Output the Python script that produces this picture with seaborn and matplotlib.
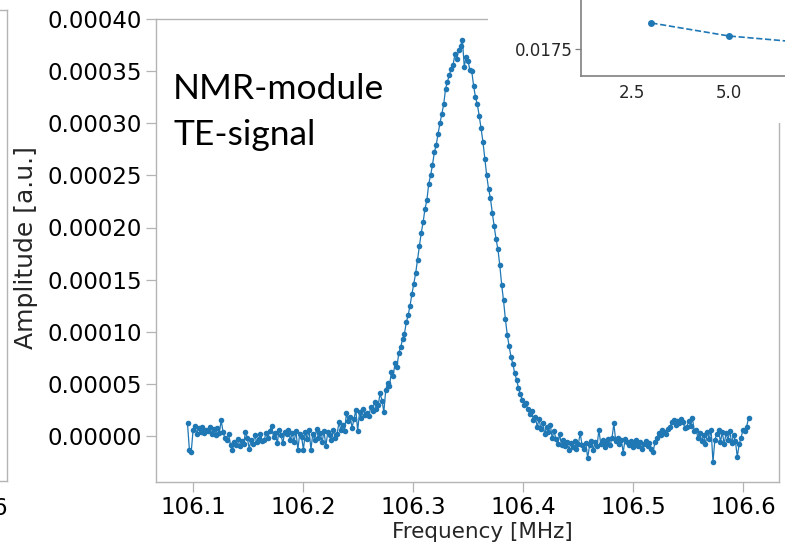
import numpy as np
import matplotlib
matplotlib.use("Agg")
import matplotlib.pyplot as plt
import seaborn as sns
from matplotlib.patches import Rectangle

# ---------------- data ----------------
# frequency sweep grid (MHz)
f_start = 106.095
f_step = 0.0017
amp_unit = 1e-5  # amplitudes below are in units of 1e-5 a.u.

amp_left = [1.2, -1.3, -1.5, 0.6, 1.0, 0.2, 0.8, 0.4, 0.9, 0.3, 0.6,
            0.5, 0.9, 0.2, 0.7, 0.1, 0.8, 0.3, 1.5, 0.4, -0.2,
            -0.4, 0.2, -0.9, -1.3, -0.6, -0.9, -0.3, -1.0, -0.5, -0.8,
            0.4, -0.2, -1.2, -0.4, -0.8, 0.1, -0.6, -0.3, 0.2, -0.5,
            -0.4, 0.3, -0.2, 0.5, 1.0, -0.1, 0.3, -0.7, 0.6, 0.1,
            -0.7, 0.4, 0.2, 0.6, -0.4, 0.3, -0.6, 0.5, -1.3, 0.2,
            -0.1, -1.3, 0.4, -0.3, 0.6, -1.3, 0.2, -0.4, 0.7, -0.2,
            0.3, -0.6, 0.5, -1.0, 0.4, 0.1, -0.4, 0.6, -0.2, 0.2,
            1.3, 0.6, 1.1, 0.5, 2.2, 1.4, 1.8, 0.8, 1.6, 2.5,
            0.5, 2.3, 1.7, 2.6, 2.0, 2.2, 1.9, 2.8, 2.4, 3.3]

amp_peak = [2.6, 3.0, 4.1, 3.4, 2.3, 4.4, 5.1, 4.8, 6.1, 5.8, 7.0, 6.6, 8.0, 8.5, 9.3,
            9.8, 10.9, 11.6, 12.5, 13.6, 14.6, 15.6, 16.9, 18.2, 19.5, 20.5, 21.8, 22.6, 24.2, 25.0,
            26.0, 27.2, 27.9, 29.0, 30.0, 30.9, 31.8, 33.3, 34.0, 34.6, 35.2, 35.6, 36.6, 36.2, 37.0,
            37.4, 38.0, 35.4, 36.4, 36.0, 35.1, 35.0, 33.6, 32.5, 31.8, 30.7, 29.5, 28.2, 26.6, 25.0,
            23.7, 22.8, 21.4, 20.1, 18.9, 17.9, 16.4, 14.5, 13.0, 11.2, 9.7, 8.6, 7.6, 6.9, 6.0,
            5.4, 4.6, 4.0, 3.5, 3.0, 3.2, 2.6, 2.1, 2.4, 1.5, 1.8, 0.9, 1.6, 0.7, 1.2,
            0.2, 0.9, 0.4, 1.1, -0.2, 0.5, -0.3, -0.8, 0.2, -0.9]

amp_right = [-0.4, -1.0, -0.6, -1.3, -0.7, -1.1, -0.5, -1.2, -0.8, 0.3,
             -0.9, -1.2, -0.7, -2.1, -0.9, -0.5, -1.3, -0.6, -1.0, 0.6,
             -0.8, -0.4, -1.1, -0.7, -0.3, -0.9, -0.2, 1.2, -0.5, -0.2,
             -0.8, -0.4, -1.6, -0.3, -0.6, -0.9, -0.5, -1.1, -0.7, -0.4,
             -1.0, -0.6, -1.2, -0.8, -0.5, -1.0, -0.7, -1.2, -1.5, -0.6,
             -0.2, 0.3, 0.1, 0.6, 0.4, 0.2, 0.7, 0.9, 1.3, 1.5,
             1.1, 1.4, 1.2, 1.6, 1.3, 0.8, 0.9, 1.4, 1.0, 1.7,
             0.5, 0.6, -0.2, 0.3, -0.5, 0.1, -0.8, 0.4, -0.3, 0.6,
             -2.5, -0.4, 0.2, 0.6, -0.6, 0.4, -0.8, 0.3, -0.4, 0.5,
             -0.7, 0.1, -0.5, -2.0, -0.8, -0.2, 0.6, 0.5, 0.9, 1.7]

amp_scaled = np.array(amp_left + amp_peak + amp_right) * amp_unit
freq = f_start + f_step * np.arange(len(amp_scaled))

x_ticks = [106.1, 106.2, 106.3, 106.4, 106.5, 106.6]
y_ticks = [0.0, 0.00005, 0.0001, 0.00015, 0.0002, 0.00025, 0.0003, 0.00035, 0.0004]

# inset data (only the visible part of the inset)
inset_x = [3, 5, 7]
inset_y = [0.0185, 0.0180, 0.01774]
inset_xticks = [2.5, 5.0]
inset_yticks = [0.0175]

# ---------------- style ----------------
sns.set_theme(style="white")
plt.rcParams["font.family"] = ["DejaVu Sans"]

W, H = 785, 549
fig = plt.figure(figsize=(W / 100, H / 100), dpi=100)

spine_gray = "#b4b4b4"
blue = "#1f77b4"

# fragment of a neighbouring panel at the far left
ax0 = fig.add_axes([-0.3, (H - 481) / H, 0.3 + 7 / W, (481 - 10) / H])
ax0.set_xticks([])
ax0.set_yticks([])
for s in ax0.spines.values():
    s.set_color(spine_gray)
    s.set_linewidth(1.0)
fig.text(7 / W, 1 - 497 / H, "6", ha="right", va="top", fontsize=16.5, color="black")

# main axes
ax = fig.add_axes([156 / W, (H - 482) / H, (779 - 156) / W, (482 - 19) / H])
sns.lineplot(x=freq, y=amp_scaled, ax=ax, color=blue, marker="o", markersize=4.0,
             markeredgewidth=0, linewidth=0.9)
ax.set_xlim(106.1 - (193 - 156) / 1100, 106.1 + (779 - 193) / 1100)
ax.set_ylim(-0.0004 * 46 / 417, 0.0004)
ax.set_xticks(x_ticks)
ax.set_xticklabels([f"{v:.1f}" for v in x_ticks])
ax.set_yticks(y_ticks)
ax.set_yticklabels([f"{v:.5f}" for v in y_ticks])
ax.tick_params(axis="both", which="major", length=7, width=0.9, color=spine_gray,
               labelsize=16.5, labelcolor="black", pad=3, left=True, bottom=True)
for s in ax.spines.values():
    s.set_color(spine_gray)
    s.set_linewidth(1.0)
ax.set_xlabel("Frequency [MHz]", fontsize=15.5)
ax.set_ylabel("Amplitude [a.u.]", fontsize=18)
ax.xaxis.set_label_coords((482 - 156) / (779 - 156), -(522 - 482) / 463)
ax.yaxis.set_label_coords(-(156 - 38) / (779 - 156), (482 - 248) / 463)

# va='baseline' on multi-line text aligns the last line's baseline
ax.text((173 - 156) / 623, (482 - 145) / 463, "NMR-module\nTE-signal",
        transform=ax.transAxes, family=["Lato", "DejaVu Sans"], fontsize=25.5,
        va="baseline", ha="left", linespacing=1.52, color="black")

# white area pasted over the corner (screenshot inset)
fig.patches.append(Rectangle((488 / W, 1 - 123 / H), 1 - 488 / W, 123 / H,
                             transform=fig.transFigure, facecolor="white",
                             edgecolor="none", zorder=1))

# inset axes
ins_h = 226
ins_w = 400
axi = fig.add_axes([581 / W, (H - 76) / H, ins_w / W, ins_h / H])
axi.set_zorder(2)
sns.lineplot(x=inset_x, y=inset_y, ax=axi, color=blue, marker="o", markersize=5.0,
             markeredgewidth=0, linewidth=1.2, linestyle="--")
px_per_x = 97 / 2.5
x0 = 2.5 - (632 - 581) / px_per_x
axi.set_xlim(x0, x0 + ins_w / px_per_x)
px_per_y = 26000
y0 = 0.0175 - (76 - 49) / px_per_y
axi.set_ylim(y0, y0 + ins_h / px_per_y)
axi.set_xticks(inset_xticks)
axi.set_xticklabels([f"{v:.1f}" for v in inset_xticks])
axi.set_yticks(inset_yticks)
axi.set_yticklabels([f"{v:.4f}" for v in inset_yticks])
axi.tick_params(axis="y", length=4, width=0.9, color="#808080", labelsize=12, pad=2, left=True)
axi.tick_params(axis="x", length=0, labelsize=12, pad=6)
for s in axi.spines.values():
    s.set_color("#808080")
    s.set_linewidth(1.2)

fig.savefig("out.png", dpi=100)
